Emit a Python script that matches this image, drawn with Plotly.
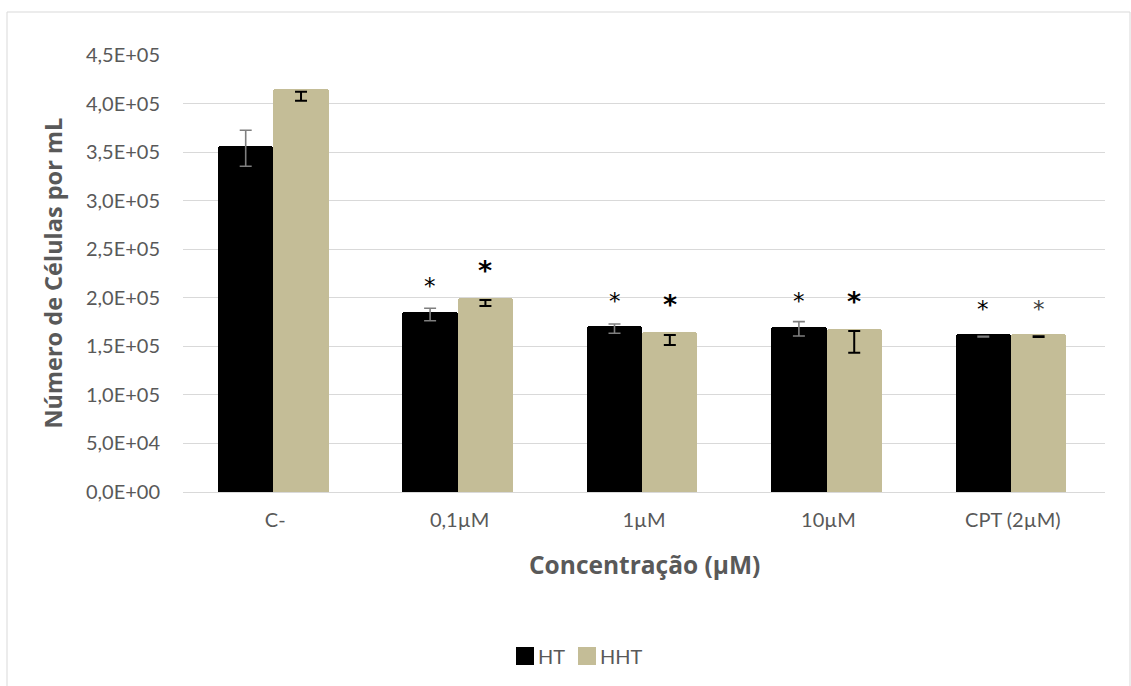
import plotly.graph_objects as go

# Data
categories = ["C-", "0,1µM", "1µM", "10µM", "CPT (2µM)"]
ht_values = [356000, 185700, 171000, 170200, 162700]
hht_values = [414500, 200100, 164400, 167500, 162700]
ht_err_center = [354000, 182800, 168200, 168000, 160000]
ht_err = [18500, 6400, 4800, 7400, 400]
hht_err_center = [407600, 194600, 156500, 154700, 160000]
hht_err = [4600, 3100, 5100, 11200, 400]
star_ht_y = [None, 212600, 197000, 197000, 188600]
star_hht_y = [None, 228000, 193000, 196500, 188600]
star_hht_big = [False, True, True, True, False]
ytick_vals = [0, 50000, 100000, 150000, 200000, 250000, 300000, 350000, 400000, 450000]
ytick_text = ["0,0E+00", "5,0E+04", "1,0E+05", "1,5E+05", "2,0E+05",
              "2,5E+05", "3,0E+05", "3,5E+05", "4,0E+05", "4,5E+05"]

HT_COLOR = "#000000"
HHT_COLOR = "#C4BD97"
TEXT_COLOR = "#595959"
GRID_COLOR = "#D9D9D9"
FONT = "Lato"
TITLE_FONT = "Open Sans"

idx = list(range(len(categories)))
bar_w = 0.3
shift = -0.01
x_ht = [i + shift - bar_w / 2 for i in idx]
x_hht = [i + shift + bar_w / 2 for i in idx]

fig = go.Figure()
fig.add_trace(go.Bar(x=x_ht, y=ht_values, width=bar_w, name="HT",
                     marker=dict(color=HT_COLOR, line=dict(width=0)),
                     showlegend=False))
fig.add_trace(go.Bar(x=x_hht, y=hht_values, width=bar_w, name="HHT",
                     marker=dict(color=HHT_COLOR, line=dict(width=0)),
                     showlegend=False))

# Error bars
fig.add_trace(go.Scatter(x=x_ht, y=ht_err_center, mode="markers",
                         marker=dict(size=1, opacity=0),
                         error_y=dict(type="data", array=ht_err, color="#7F7F7F",
                                      thickness=1.6, width=6),
                         showlegend=False, hoverinfo="skip"))
fig.add_trace(go.Scatter(x=x_hht, y=hht_err_center, mode="markers",
                         marker=dict(size=1, opacity=0),
                         error_y=dict(type="data", array=hht_err, color="#000000",
                                      thickness=2, width=6),
                         showlegend=False, hoverinfo="skip"))

# Significance asterisks
annotations = []
for i in idx:
    if star_ht_y[i] is not None:
        annotations.append(dict(x=x_ht[i], y=star_ht_y[i], text="*",
                                showarrow=False, xref="x", yref="y",
                                font=dict(family="DejaVu Sans", size=23, color="#000000"),
                                yanchor="middle"))
    if star_hht_y[i] is not None:
        big = star_hht_big[i]
        annotations.append(dict(x=x_hht[i], y=star_hht_y[i], text="<b>*</b>" if big else "*",
                                showarrow=False, xref="x", yref="y",
                                font=dict(family="DejaVu Sans", size=27 if big else 23,
                                          color="#000000" if big else "#404040"),
                                yanchor="middle"))

# Axis titles
annotations.append(dict(x=0.5, y=-0.167, xref="paper", yref="paper",
                        text="<b>Concentração (µM)</b>", showarrow=False,
                        font=dict(family=TITLE_FONT, size=24.5, color=TEXT_COLOR),
                        xanchor="center", yanchor="middle"))
annotations.append(dict(x=-0.142, y=0.5, xref="paper", yref="paper",
                        text="<b>Número de Células por mL</b>", showarrow=False,
                        textangle=-90,
                        font=dict(family=TITLE_FONT, size=23.5, color=TEXT_COLOR),
                        xanchor="center", yanchor="middle"))

# Legend (drawn as swatches with labels)
shapes = []
plot_l, plot_r, plot_t, plot_b = 183, 1105, 55, 492
pw, ph = plot_r - plot_l, plot_b - plot_t


def px(xp):
    return (xp - plot_l) / pw


def py(yp):
    return (plot_b - yp) / ph


legend_items = [("HT", HT_COLOR, 516), ("HHT", HHT_COLOR, 578)]
for label, color, x0 in legend_items:
    shapes.append(dict(type="rect", xref="paper", yref="paper",
                       x0=px(x0), x1=px(x0 + 18), y0=py(665), y1=py(647),
                       fillcolor=color, line=dict(width=0), layer="above"))
    annotations.append(dict(x=px(x0 + 20), y=py(656), xref="paper", yref="paper",
                            text=label, showarrow=False, xanchor="left", yanchor="middle",
                            font=dict(family=FONT, size=20, color=TEXT_COLOR)))

# Chart border
shapes.append(dict(type="rect", xref="paper", yref="paper",
                   x0=px(7), x1=px(1130), y0=py(700), y1=py(12),
                   line=dict(color=GRID_COLOR, width=1), fillcolor="rgba(0,0,0,0)",
                   layer="below"))

fig.update_layout(
    width=1131, height=686,
    margin=dict(l=plot_l, r=1131 - plot_r, t=plot_t, b=686 - plot_b),
    paper_bgcolor="white", plot_bgcolor="white",
    barmode="overlay", bargap=0, barcornerradius=3,
    annotations=annotations, shapes=shapes,
    font=dict(family=FONT, color=TEXT_COLOR),
    xaxis=dict(range=[-0.5, 4.5], tickmode="array", tickvals=idx, ticktext=categories,
               showgrid=False, zeroline=False, showline=False, ticks="",
               tickfont=dict(family=FONT, size=20, color=TEXT_COLOR),
               ticklabelstandoff=14, fixedrange=True),
    yaxis=dict(range=[0, 450000], tickmode="array", tickvals=ytick_vals, ticktext=ytick_text,
               showgrid=True, gridcolor=GRID_COLOR, gridwidth=1.3,
               zeroline=True, zerolinecolor=GRID_COLOR, zerolinewidth=1.3,
               showline=False, ticks="",
               tickfont=dict(family=FONT, size=20, color=TEXT_COLOR),
               ticklabelstandoff=22, fixedrange=True),
)

fig.write_html("out.html")
